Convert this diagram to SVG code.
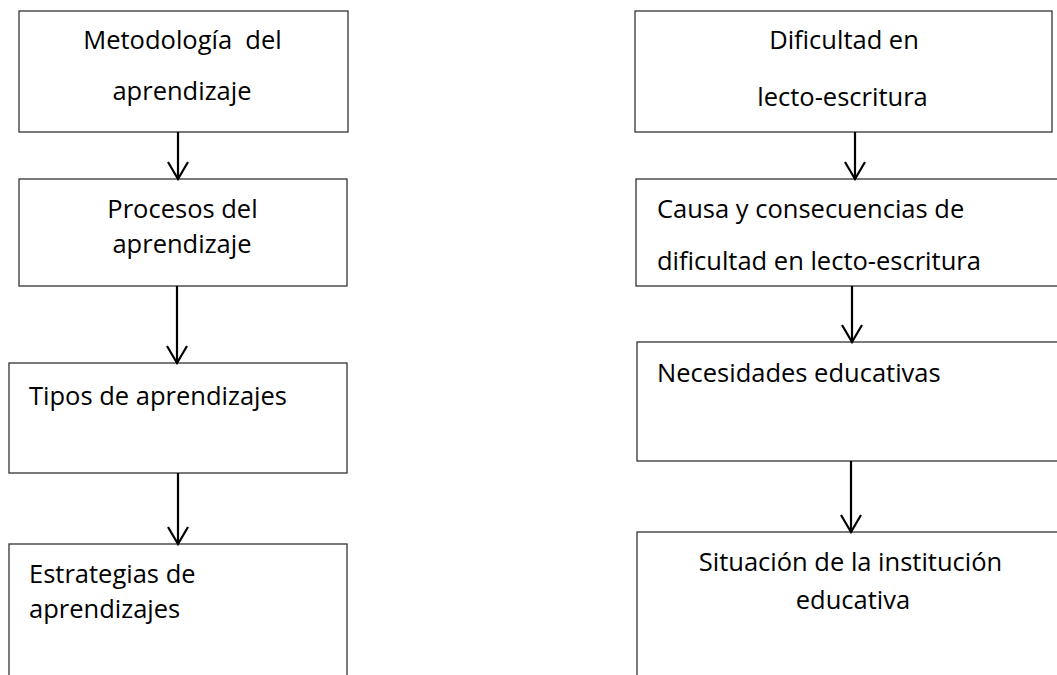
<svg xmlns="http://www.w3.org/2000/svg" width="1057" height="675" viewBox="0 0 1057 675">
<style>
.box{fill:#fff;stroke:#333;stroke-width:1.3}
.t{font-family:"Open Sans","Noto Sans","Liberation Sans",sans-serif;font-size:25.5px;fill:#000;white-space:pre}
.c{text-anchor:middle}
.conn{stroke:#000;stroke-width:2.2;fill:none}
</style>
<defs>
<marker id="arr" viewBox="0 0 20 22" refX="18" refY="11" markerWidth="20" markerHeight="22" markerUnits="userSpaceOnUse" orient="auto">
<path d="M1,1 L18,11 L1,21" fill="none" stroke="#000" stroke-width="2.2"/>
</marker>
</defs>
<rect width="1057" height="675" fill="#fff"/>
<g id="node-metodologia">
<rect class="box" x="19" y="11" width="329" height="121"/>
<text class="t c" x="182.5" y="49" xml:space="preserve">Metodología  del</text>
<text class="t c" x="182" y="100">aprendizaje</text>
</g>
<g id="node-procesos">
<rect class="box" x="19" y="179" width="328" height="107"/>
<text class="t c" x="182.5" y="218">Procesos del</text>
<text class="t c" x="182" y="253">aprendizaje</text>
</g>
<g id="node-tipos">
<rect class="box" x="9" y="363" width="338" height="110"/>
<text class="t" x="29" y="405">Tipos de aprendizajes</text>
</g>
<g id="node-estrategias">
<rect class="box" x="9" y="544" width="338" height="140"/>
<text class="t" x="29" y="583">Estrategias de</text>
<text class="t" x="29" y="618">aprendizajes</text>
</g>
<g id="node-dificultad">
<rect class="box" x="635" y="11" width="417" height="121"/>
<text class="t c" x="844" y="49">Dificultad en</text>
<text class="t c" x="842.5" y="106">lecto-escritura</text>
</g>
<g id="node-causa">
<rect class="box" x="636" y="179" width="430" height="107"/>
<text class="t" x="657" y="218">Causa y consecuencias de</text>
<text class="t" x="657" y="270">dificultad en lecto-escritura</text>
</g>
<g id="node-necesidades">
<rect class="box" x="637" y="342" width="430" height="119"/>
<text class="t" x="657" y="382">Necesidades educativas</text>
</g>
<g id="node-situacion">
<rect class="box" x="637" y="532" width="430" height="150"/>
<text class="t c" x="850.5" y="571">Situación de la institución</text>
<text class="t c" x="853" y="609">educativa</text>
</g>
<g id="connectors">
<line class="conn" x1="178" y1="132" x2="178" y2="179" marker-end="url(#arr)"/>
<line class="conn" x1="177" y1="286" x2="177" y2="363" marker-end="url(#arr)"/>
<line class="conn" x1="178" y1="473" x2="178" y2="544" marker-end="url(#arr)"/>
<line class="conn" x1="855" y1="132" x2="855" y2="179" marker-end="url(#arr)"/>
<line class="conn" x1="852" y1="286" x2="852" y2="342" marker-end="url(#arr)"/>
<line class="conn" x1="851" y1="461" x2="851" y2="532" marker-end="url(#arr)"/>
</g>
</svg>
